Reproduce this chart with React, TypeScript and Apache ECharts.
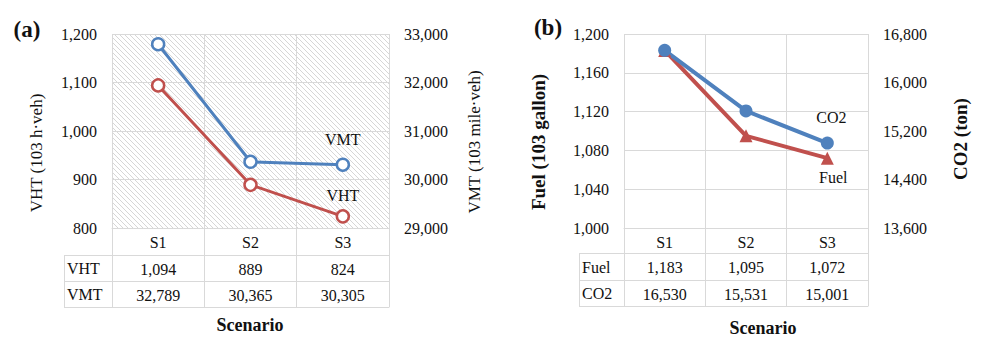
import React, { useEffect, useRef } from "react";
import * as echarts from "echarts";

const categories = ["S1", "S2", "S3"];
const vht = [1094, 889, 824];
const vmt = [32789, 30365, 30305];
const fuel = [1183, 1095, 1072];
const co2 = [16530, 15531, 15001];

const FONT = "'Liberation Serif', 'Times New Roman', serif";
const GRID = "#d9d9d9";
const TXT = "#111";
const RED = "#C0504D";
const BLUE = "#4F81BD";

const fmt = (v: number) => v.toLocaleString("en-US");

function makePattern() {
  const c = document.createElement("canvas");
  c.width = 5;
  c.height = 5;
  const ctx = c.getContext("2d")!;
  ctx.fillStyle = "#ffffff";
  ctx.fillRect(0, 0, 5, 5);
  ctx.strokeStyle = "#d6d6d6";
  ctx.lineWidth = 1;
  for (const k of [-5, 0, 5]) {
    ctx.beginPath();
    ctx.moveTo(k, 0);
    ctx.lineTo(k + 5, 5);
    ctx.stroke();
  }
  return c;
}

function tableAxes(gridIndex: number, rows: string[][], rowOffsets: number[], bottomOffset: number) {
  const label = { margin: 6, fontSize: 16, color: TXT, fontFamily: FONT, interval: 0 };
  const axes: any[] = [];
  axes.push({
    gridIndex, type: "category", data: categories, position: "bottom", boundaryGap: true,
    axisLine: { lineStyle: { color: GRID } },
    axisTick: { show: true, length: bottomOffset, lineStyle: { color: GRID } },
    axisLabel: label,
    splitLine: { show: true, lineStyle: { color: GRID } },
  });
  rows.forEach((r, i) =>
    axes.push({
      gridIndex, type: "category", data: r, position: "bottom", offset: rowOffsets[i], boundaryGap: true,
      axisLine: { lineStyle: { color: GRID } }, axisTick: { show: false },
      axisLabel: label, splitLine: { show: false },
    })
  );
  axes.push({
    gridIndex, type: "category", data: categories, position: "bottom", offset: bottomOffset, boundaryGap: true,
    axisLine: { lineStyle: { color: GRID } }, axisTick: { show: false },
    axisLabel: { show: false }, splitLine: { show: false },
  });
  return axes;
}

function lastLabel(arr: number[], text: string, pos: string, dist: number, off: number[] = [0, 0]) {
  return arr.map((v, i) =>
    i === arr.length - 1
      ? { value: v, label: { show: true, formatter: text, position: pos, distance: dist, offset: off, fontSize: 16, color: TXT, fontFamily: FONT } }
      : v
  );
}

export default function App() {
  const ref = useRef<HTMLDivElement>(null);
  useEffect(() => {
    const chart = echarts.init(ref.current!, null, { renderer: "svg" });
    const yLabel = { fontSize: 16, color: TXT, fontFamily: FONT, margin: 15, formatter: (v: number) => fmt(v) };
    const hline = (x1: number, x2: number, y: number) => ({ type: "line", shape: { x1, y1: y, x2, y2: y }, style: { stroke: GRID, lineWidth: 1 } });
    const vline = (x: number, y1: number, y2: number) => ({ type: "line", shape: { x1: x, y1, x2: x, y2 }, style: { stroke: GRID, lineWidth: 1 } });
    const txt = (text: string, x: number, y: number, size: number, bold = false, rot = 0, align = "center") => ({
      type: "text", x, y, rotation: rot,
      style: { text, fontSize: size, fontFamily: FONT, fontWeight: bold ? "bold" : "normal", fill: TXT, textAlign: align, textVerticalAlign: "middle" },
    });
    const option: any = {
      animation: false,
      textStyle: { fontFamily: FONT },
      grid: [
        { left: 112, top: 34, width: 277, height: 194, show: true, borderWidth: 0, backgroundColor: { image: makePattern(), repeat: "repeat" } },
        { left: 624, top: 34, width: 244, height: 194, show: false },
      ],
      xAxis: [
        ...tableAxes(0, [vht.map(fmt), vmt.map(fmt)], [27, 53], 79),
        ...tableAxes(1, [fuel.map(fmt), co2.map(fmt)], [25, 52], 78),
      ],
      yAxis: [
        { gridIndex: 0, type: "value", position: "left", min: 800, max: 1200, interval: 100, axisLine: { show: false }, axisTick: { show: false }, axisLabel: yLabel, splitLine: { lineStyle: { color: GRID } } },
        { gridIndex: 0, type: "value", position: "right", min: 29000, max: 33000, interval: 1000, axisLine: { show: false }, axisTick: { show: false }, axisLabel: yLabel, splitLine: { show: false } },
        { gridIndex: 1, type: "value", position: "left", min: 1000, max: 1200, interval: 40, axisLine: { show: false }, axisTick: { show: false }, axisLabel: yLabel, splitLine: { lineStyle: { color: GRID } } },
        { gridIndex: 1, type: "value", position: "right", min: 13600, max: 16800, interval: 800, axisLine: { show: false }, axisTick: { show: false }, axisLabel: yLabel, splitLine: { show: false } },
      ],
      series: [
        {
          name: "VHT", type: "line", xAxisIndex: 0, yAxisIndex: 0, data: lastLabel(vht, "VHT", "top", 6),
          lineStyle: { color: RED, width: 3 }, symbol: "circle", symbolSize: 12,
          itemStyle: { color: "#fff", borderColor: RED, borderWidth: 2.5 },
        },
        {
          name: "VMT", type: "line", xAxisIndex: 0, yAxisIndex: 1, data: lastLabel(vmt, "VMT", "top", 10),
          lineStyle: { color: BLUE, width: 3 }, symbol: "circle", symbolSize: 12,
          itemStyle: { color: "#fff", borderColor: BLUE, borderWidth: 2.5 },
        },
        {
          name: "Fuel", type: "line", xAxisIndex: 4, yAxisIndex: 2, data: lastLabel(fuel, "Fuel", "bottom", 5, [6, 0]),
          lineStyle: { color: RED, width: 4 }, symbol: "triangle", symbolSize: 13,
          itemStyle: { color: RED },
        },
        {
          name: "CO2", type: "line", xAxisIndex: 4, yAxisIndex: 3, data: lastLabel(co2, "CO2", "top", 11, [4, 0]),
          lineStyle: { color: BLUE, width: 4 }, symbol: "circle", symbolSize: 13,
          itemStyle: { color: BLUE },
        },
      ],
      graphic: [
        hline(64, 112, 255.5), hline(64, 112, 281.5), hline(64, 112, 307.5), vline(64.5, 255, 308),
        txt("VHT", 67, 268, 16, false, 0, "left"),
        txt("VMT", 67, 294, 16, false, 0, "left"),
        hline(579, 624, 253.5), hline(579, 624, 280.5), hline(579, 624, 306.5), vline(579.5, 253, 307),
        txt("Fuel", 582, 267, 16, false, 0, "left"),
        txt("CO2", 582, 293, 16, false, 0, "left"),
        txt("VHT (103 h·veh)", 36, 153, 17, false, Math.PI / 2),
        txt("VMT (103 mile·veh)", 474, 142, 17, false, Math.PI / 2),
        txt("Fuel (103 gallon)", 538, 142, 19, true, Math.PI / 2),
        txt("CO2 (ton)", 960, 139, 19, true, Math.PI / 2),
        txt("Scenario", 250, 325, 18, true),
        txt("Scenario", 763, 328, 18, true),
        txt("(a)", 27, 29, 23, true),
        txt("(b)", 548, 27, 23, true),
      ],
    };
    chart.setOption(option);
    return () => chart.dispose();
  }, []);
  return <div ref={ref} style={{ position: "fixed", left: 0, top: 0, width: 981, height: 337, background: "#fff" }} />;
}
